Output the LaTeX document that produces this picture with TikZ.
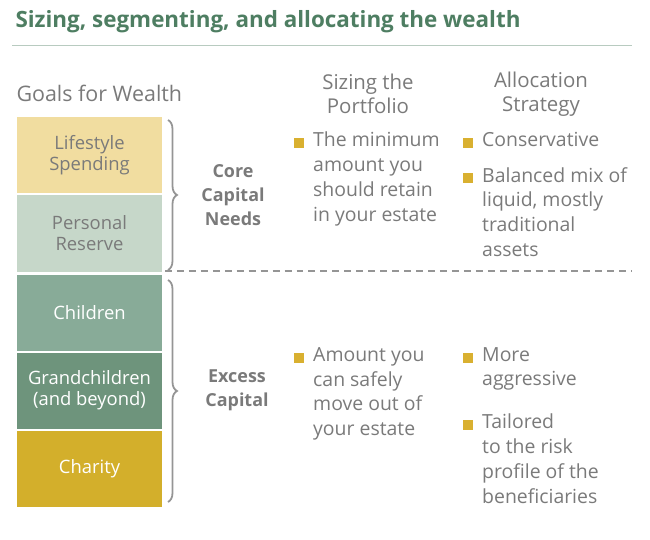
\documentclass[tikz,border=0pt]{standalone}
\usepackage{fontspec}
\setmainfont{Open Sans}
\usetikzlibrary{decorations.pathreplacing}
\definecolor{tgreen}{HTML}{4E7E62}
\definecolor{tgray}{HTML}{7A7A7A}
\definecolor{cLife}{HTML}{F1DDA0}
\definecolor{cRes}{HTML}{C6D7C9}
\definecolor{cChild}{HTML}{88AB98}
\definecolor{cGrand}{HTML}{6E947C}
\definecolor{cChar}{HTML}{D3AF2B}
\definecolor{cBul}{HTML}{D9B030}
\tikzset{
 goal/.style={minimum width=145bp,minimum height=76bp,inner sep=0pt,align=center,font=\fontsize{18.5}{21}\selectfont},
 hdr/.style={align=center,text=tgray,font=\fontsize{20.5}{24}\selectfont},
 txt/.style={align=left,anchor=north west,text=tgray,inner sep=0pt,font=\fontsize{19.5}{25}\selectfont},
 bul/.style={fill=cBul,minimum size=10bp,inner sep=0pt,anchor=center},
 lbl/.style={align=center,text=tgray,font=\bfseries\fontsize{18}{24}\selectfont},
 brc/.style={draw=tgray!80,line width=1.8pt,decorate,decoration={brace,amplitude=9bp}}
}
\begin{document}
\begin{tikzpicture}[x=1bp,y=-1bp]
\useasboundingbox (0,0) rectangle (650,540);
\node[anchor=west,text=tgreen,font=\bfseries\fontsize{22.5}{26}\selectfont] (title) at (12,22) {Sizing, segmenting, and allocating the wealth};
\draw[tgreen!40,line width=1pt] (12,46) -- (632,46);
\node[anchor=west,text=tgray,font=\fontsize{21.5}{24}\selectfont] (gw) at (13,93) {Goals for Wealth};
\node[goal,fill=cLife,text=tgray] (life) at (89.5,155) {Lifestyle\\Spending};
\node[goal,fill=cRes,text=tgray] (res) at (89.5,233.5) {Personal\\Reserve};
\node[goal,fill=cChild,text=white] (ch) at (89.5,312.5) {Children};
\node[goal,fill=cGrand,text=white] (gc) at (89.5,390.5) {Grandchildren\\(and beyond)};
\node[goal,fill=cChar,text=white] (cha) at (89.5,468.5) {Charity};
\coordinate (b1a) at (168,120); \coordinate (b1b) at (168,270);
\coordinate (b2a) at (168,280); \coordinate (b2b) at (168,502);
\draw[brc] (b1a) -- (b1b);
\draw[brc] (b2a) -- (b2b);
\node[lbl] (core) at (233,195) {Core\\Capital\\Needs};
\node[lbl] (exc) at (237,390) {Excess\\Capital};
\coordinate (d1) at (165,271); \coordinate (d2) at (632,271);
\draw[tgray!80,dashed,dash pattern=on 7pt off 5pt,line width=1.2pt] (d1) -- (d2);
\node[hdr] (h1) at (368,94) {Sizing the\\Portfolio};
\node[hdr] (h2) at (541,94) {Allocation\\Strategy};
\node[bul] (s1) at (299,143) {};
\node[txt] (t1) at (313,132) {The minimum\\amount you\\should retain\\in your estate};
\node[bul] (s2) at (299,358) {};
\node[txt] (t2) at (313,347) {Amount you\\can safely\\move out of\\your estate};
\node[bul] (a1) at (468,143) {};
\node[txt] (at1) at (482,132) {Conservative};
\node[bul] (a2) at (468,178) {};
\node[txt] (at2) at (482,167) {Balanced mix of\\liquid, mostly\\traditional\\assets};
\node[bul] (a3) at (468,358) {};
\node[txt] (at3) at (482,347) {More\\aggressive};
\node[bul] (a4) at (468,425) {};
\node[txt] (at4) at (482,414) {Tailored\\to the risk\\profile of the\\beneficiaries};
\end{tikzpicture}
\end{document}
